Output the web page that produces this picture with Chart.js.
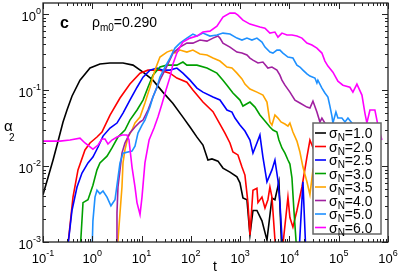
<!DOCTYPE html>
<html>
<head>
<meta charset="utf-8">
<script src="https://cdn.jsdelivr.net/npm/chart.js@4.4.0/dist/chart.umd.min.js"></script>
<style>
  html, body { margin: 0; padding: 0; background: #fff; }
  #wrap { width: 399px; height: 275px; }
</style>
</head>
<body>
<div id="wrap"><canvas id="alphaChart" width="399" height="275"></canvas></div>
<script>
// sigma_N of each curve and its colour
const sigmaLabels = ['1.0', '2.0', '2.5', '3.0', '3.5', '4.0', '5.0', '6.0'];
const lineColors = ['#000000', '#ff0000', '#0000ff', '#00a000', '#ffa500', '#a020a0', '#1e90ff', '#ff00ff'];

// tick labels (base, exponent)
const xTickValues = [0.1, 1, 10, 100, 1000, 10000, 100000, 1000000];
const xTickExp = ['-1', '0', '1', '2', '3', '4', '5', '6'];
const yTickValues = [0.001, 0.01, 0.1, 1];
const yTickExp = ['-3', '-2', '-1', '0'];

// sigma_N = 1.0
const t10 = [0.1, 0.126, 0.16, 0.2, 0.255, 0.307, 0.387, 0.563, 0.9, 1.43, 2.28, 4.2, 6.7, 10.7, 17, 27, 43, 69, 96, 133, 176, 222, 268, 355, 448, 621, 861, 991, 1140, 1374, 1581, 1820, 2190, 2770, 3500, 4420, 5080, 6120, 7050];
const a10 = [0.0042, 0.007, 0.012, 0.0207, 0.038, 0.0546, 0.083, 0.135, 0.195, 0.22, 0.227, 0.227, 0.213, 0.172, 0.135, 0.094, 0.067, 0.044, 0.0326, 0.024, 0.0189, 0.012, 0.0124, 0.0116, 0.0094, 0.0083, 0.0072, 0.006, 0.0038, 0.0036, 0.00124, 0.0026, 0.0026, 0.0019, 0.00106, 0.0038, 0.0036, 0.0062, 0.0007];
// sigma_N = 2.0
const t20 = [0.307, 0.406, 0.513, 0.711, 0.898, 1.245, 1.57, 2.29, 3.65, 5.8, 9.3, 13.5, 23.6, 37.7, 52, 83, 110, 176, 281, 389, 492, 621, 714, 902, 1089, 1251, 1439, 1581, 1820, 2190, 2300, 2770, 3190, 3660, 4020, 4420, 5320, 7050, 9330, 10230, 11770, 14190, 17950, 22650, 26060, 31400];
const a20 = [0.0007, 0.0039, 0.0089, 0.0163, 0.0201, 0.0241, 0.028, 0.0469, 0.0785, 0.12, 0.167, 0.183, 0.183, 0.167, 0.144, 0.127, 0.1, 0.0695, 0.052, 0.0357, 0.0272, 0.0201, 0.0153, 0.014, 0.0097, 0.0076, 0.0033, 0.00124, 0.0048, 0.0051, 0.0033, 0.0039, 0.0028, 0.0036, 0.0053, 0.0039, 0.0007, 0.0007, 0.0039, 0.0021, 0.00157, 0.0026, 0.0053, 0.0131, 0.022, 0.0163];
// sigma_N = 2.5
const t25 = [0.307, 0.387, 0.49, 0.618, 0.818, 1.03, 1.31, 1.65, 2.29, 3.17, 4.2, 5.8, 8.1, 10.7, 14.8, 20.5, 27, 37.7, 52, 69, 96, 133, 176, 281, 389, 540, 682, 785, 991, 1251, 1581, 1820, 2190, 2520, 2900, 3500, 4420, 5080, 5850, 6410, 7380, 15600, 18800, 21600];
const a25 = [0.0007, 0.0026, 0.0053, 0.0081, 0.011, 0.0131, 0.0178, 0.0248, 0.0316, 0.0368, 0.0498, 0.0738, 0.109, 0.148, 0.183, 0.195, 0.183, 0.183, 0.195, 0.167, 0.135, 0.106, 0.094, 0.081, 0.074, 0.0546, 0.0514, 0.0428, 0.0346, 0.0289, 0.022, 0.0148, 0.0201, 0.0256, 0.0131, 0.0062, 0.0089, 0.012, 0.0065, 0.0033, 0.0007, 0.0007, 0.0062, 0.0007];
// sigma_N = 3.0
const t30 = [0.563, 0.648, 0.818, 1.03, 1.245, 1.43, 1.99, 2.51, 3.32, 4.6, 5.8, 8.1, 10.7, 13.5, 17, 23.6, 32.7, 52, 69, 83, 133, 212, 338, 448, 540, 714, 991, 1140, 1581, 2000, 2520, 3190, 4020, 4630, 5570, 6120, 7050, 8110, 9330, 10230, 11250, 12340, 14190];
const a30 = [0.0007, 0.0033, 0.0036, 0.0056, 0.0089, 0.011, 0.0135, 0.0173, 0.0241, 0.0298, 0.0403, 0.0546, 0.0738, 0.109, 0.157, 0.201, 0.213, 0.213, 0.234, 0.213, 0.213, 0.195, 0.167, 0.135, 0.116, 0.0914, 0.0738, 0.0616, 0.0695, 0.0597, 0.0469, 0.0391, 0.0326, 0.0298, 0.028, 0.022, 0.0173, 0.0148, 0.012, 0.0106, 0.007, 0.0026, 0.0007];
// sigma_N = 3.5
const t35 = [3.17, 3.65, 4.0, 4.2, 4.6, 5.3, 6.4, 7.35, 9.3, 11.7, 14.8, 18.7, 23.6, 32.7, 41.4, 47.6, 60, 83, 110, 153, 212, 281, 389, 540, 682, 861, 1089, 1251, 1581, 2190, 2900, 3500, 4020, 4420, 5080, 5850, 6730, 8110, 9330, 10230, 11770, 14190, 16330, 18800, 22650, 26060, 30000, 34500];
const a35 = [0.0007, 0.0024, 0.0053, 0.011, 0.0163, 0.0241, 0.0298, 0.0368, 0.0441, 0.0675, 0.109, 0.183, 0.272, 0.316, 0.336, 0.307, 0.336, 0.316, 0.336, 0.298, 0.289, 0.264, 0.241, 0.201, 0.195, 0.167, 0.14, 0.12, 0.103, 0.094, 0.086, 0.0695, 0.038, 0.0346, 0.0469, 0.0428, 0.038, 0.0357, 0.0336, 0.0368, 0.028, 0.0213, 0.0153, 0.0097, 0.0062, 0.0042, 0.0089, 0.012];
// sigma_N = 4.0
const t40 = [3.03, 3.17, 3.32, 3.65, 4.0, 4.6, 5.8, 7.35, 9.3, 10.7, 13.5, 17, 23.6, 32.7, 43.4, 60, 83, 110, 153, 212, 281, 355, 389, 448, 621, 861, 1089, 1374, 1581, 1820, 2300, 2900, 3660, 4420, 5570, 6410, 7050, 8110, 10230, 12940, 16330, 22650, 26060, 30000, 36100, 41600, 45600, 52500, 66300, 83800];
const a40 = [0.0007, 0.0024, 0.0053, 0.0089, 0.0148, 0.0201, 0.0272, 0.0326, 0.038, 0.0403, 0.0546, 0.081, 0.135, 0.207, 0.307, 0.368, 0.415, 0.415, 0.455, 0.441, 0.483, 0.514, 0.483, 0.415, 0.368, 0.316, 0.307, 0.289, 0.264, 0.248, 0.227, 0.234, 0.195, 0.201, 0.183, 0.157, 0.135, 0.116, 0.094, 0.0738, 0.0675, 0.0597, 0.058, 0.0716, 0.0514, 0.038, 0.0428, 0.0368, 0.0256, 0.0163];
// sigma_N = 5.0
const t50 = [0.986, 1.03, 1.135, 1.245, 1.43, 1.65, 1.99, 2.39, 2.89, 3.32, 3.65, 4.2, 6.4, 7.35, 8.45, 10.2, 11.7, 14.8, 17, 20.5, 23.6, 29.8, 37.7, 47.6, 60, 83, 110, 133, 176, 244, 338, 448, 621, 861, 1089, 1374, 1734, 2190, 2770, 3190, 4020, 4630, 5570, 6410, 7380, 9330, 11770, 14190, 16330, 18800, 22650, 26060, 32900, 36100, 37800, 45600, 52500, 60400, 66300, 72800, 76300, 87800, 96300, 116000, 134000, 154000, 185000, 223000];
const a50 = [0.0007, 0.0019, 0.0039, 0.0048, 0.0043, 0.0047, 0.0039, 0.003, 0.0036, 0.007, 0.011, 0.0148, 0.0157, 0.0183, 0.0272, 0.0346, 0.0403, 0.0597, 0.081, 0.109, 0.148, 0.201, 0.264, 0.357, 0.415, 0.483, 0.546, 0.514, 0.562, 0.514, 0.53, 0.562, 0.546, 0.483, 0.455, 0.483, 0.455, 0.483, 0.428, 0.368, 0.316, 0.307, 0.336, 0.336, 0.307, 0.272, 0.264, 0.213, 0.201, 0.183, 0.163, 0.153, 0.144, 0.124, 0.135, 0.106, 0.0914, 0.081, 0.0616, 0.0455, 0.0368, 0.0514, 0.0428, 0.0428, 0.038, 0.0428, 0.0368, 0.0316];
// sigma_N = 6.0
const t60 = [0.1, 0.139, 0.221, 0.353, 0.563, 0.711, 1.03, 1.31, 1.57, 1.81, 2.08, 2.51, 3.17, 4.0, 5.06, 5.55, 6.4, 7.35, 8.07, 9.3, 10.2, 11.7, 14.2, 17.9, 21.5, 25.9, 31.3, 37.7, 43.4, 52, 60, 69, 96, 133, 176, 244, 338, 448, 621, 785, 902, 1140, 1581, 2520, 3190, 4020, 5080, 5850, 7050, 8900, 11250, 14190, 17950, 22650, 28600, 36100, 45600, 52500, 60400, 76300, 96300, 121600, 168600, 194000, 234000, 296000, 340000, 373000, 430000, 542000, 624000, 752000];
const a60 = [0.0213, 0.0213, 0.0213, 0.022, 0.0233, 0.0201, 0.0167, 0.0189, 0.0227, 0.0227, 0.0195, 0.022, 0.0241, 0.0256, 0.0256, 0.022, 0.0097, 0.0053, 0.0033, 0.0023, 0.0039, 0.011, 0.022, 0.0316, 0.0441, 0.0654, 0.1, 0.148, 0.22, 0.307, 0.368, 0.428, 0.483, 0.514, 0.58, 0.597, 0.695, 0.913, 1.03, 1.03, 0.97, 0.834, 0.739, 0.675, 0.654, 0.562, 0.58, 0.498, 0.562, 0.53, 0.53, 0.514, 0.483, 0.415, 0.391, 0.357, 0.307, 0.241, 0.207, 0.172, 0.131, 0.116, 0.109, 0.094, 0.12, 0.086, 0.0498, 0.0368, 0.0546, 0.0546, 0.0346, 0.022];

const seriesT = [t10, t20, t25, t30, t35, t40, t50, t60];
const seriesA = [a10, a20, a25, a30, a35, a40, a50, a60];

const FONT = '"Liberation Sans", Arial, Helvetica, sans-serif';

// draws a run of text pieces: [text, size, dy, bold]
function drawScript(ctx, parts, x, y, align) {
    let total = 0;
    parts.forEach(p => {
        ctx.font = (p[3] ? 'bold ' : '') + p[1] + 'px ' + FONT;
        p.w = ctx.measureText(p[0]).width;
        total += p.w;
    });
    let x0 = x;
    if (align === 'center') x0 = x - total / 2;
    if (align === 'right') x0 = x - total;
    ctx.textAlign = 'left';
    ctx.textBaseline = 'alphabetic';
    parts.forEach(p => {
        ctx.font = (p[3] ? 'bold ' : '') + p[1] + 'px ' + FONT;
        ctx.fillText(p[0], x0, y + p[2]);
        x0 += p.w;
    });
}

const framePlugin = {
    id: 'framePlugin',
    afterDatasetsDraw(chart) {
        const ctx = chart.ctx;
        const area = chart.chartArea;
        const xs = chart.scales.x;
        const ys = chart.scales.y;
        ctx.save();

        // legend box
        const lx = 313, ly = 123, lw = 68, lh = 111;
        ctx.fillStyle = '#fff';
        ctx.fillRect(lx, ly, lw, lh);
        ctx.lineWidth = 1.5;
        ctx.strokeStyle = '#666';
        ctx.strokeRect(lx, ly, lw, lh);
        sigmaLabels.forEach((s, i) => {
            const ry = 133 + i * 13.5;
            ctx.strokeStyle = lineColors[i];
            ctx.lineWidth = 1.6;
            ctx.beginPath();
            ctx.moveTo(315, ry);
            ctx.lineTo(326, ry);
            ctx.stroke();
            ctx.fillStyle = '#000';
            drawScript(ctx, [['σ', 14, 0], ['N', 10, 3], ['=' + s, 14, 0]], 329, ry + 5, 'left');
        });

        // frame
        ctx.strokeStyle = '#222';
        ctx.lineWidth = 1.3;
        ctx.strokeRect(area.left, area.top, area.right - area.left, area.bottom - area.top);

        // ticks on all four sides, pointing inward
        ctx.lineWidth = 1;
        ctx.beginPath();
        for (let d = -1; d <= 6; d++) {
            for (let k = 1; k <= 9; k++) {
                if (d === 6 && k > 1) break;
                const v = k * Math.pow(10, d);
                const px = Math.round(xs.getPixelForValue(v)) + 0.5;
                const len = k === 1 ? 6 : 3;
                ctx.moveTo(px, area.bottom);
                ctx.lineTo(px, area.bottom - len);
                ctx.moveTo(px, area.top);
                ctx.lineTo(px, area.top + len);
            }
        }
        for (let d = -3; d <= 0; d++) {
            for (let k = 1; k <= 9; k++) {
                const v = k * Math.pow(10, d);
                if (v > ys.max) break;
                const py = Math.round(ys.getPixelForValue(v)) + 0.5;
                const len = k === 1 ? 6 : 3;
                ctx.moveTo(area.left, py);
                ctx.lineTo(area.left + len, py);
                ctx.moveTo(area.right, py);
                ctx.lineTo(area.right - len, py);
            }
        }
        ctx.stroke();

        // tick labels
        ctx.fillStyle = '#000';
        xTickValues.forEach((v, i) => {
            const px = xs.getPixelForValue(v);
            drawScript(ctx, [['10', 13, 0], [xTickExp[i], 9, -7]], px, 263, 'center');
        });
        yTickValues.forEach((v, i) => {
            const py = ys.getPixelForValue(v);
            drawScript(ctx, [['10', 13, 0], [yTickExp[i], 9, -7]], 41, py + 6.5, 'right');
        });

        // axis titles
        drawScript(ctx, [['t', 14, 0]], 215, 271, 'center');
        ctx.font = '15px ' + FONT;
        ctx.textAlign = 'left';
        ctx.fillText('α', 4, 131);
        ctx.font = '10px ' + FONT;
        ctx.fillText('2', 9, 141);

        // panel letter and density
        drawScript(ctx, [['c', 16, 0, true]], 60, 28, 'left');
        drawScript(ctx, [['ρ', 14, 0], ['m0', 10, 4], ['=0.290', 14, 0]], 92, 27, 'left');
        ctx.restore();
    }
};

const datasets = sigmaLabels.map((s, i) => ({
    label: 'σN=' + s,
    data: seriesT[i].map((t, j) => ({ x: t, y: seriesA[i][j] })),
    showLine: true,
    borderColor: lineColors[i],
    backgroundColor: lineColors[i],
    borderWidth: 1.6,
    pointRadius: 0,
    fill: false,
    tension: 0,
    order: sigmaLabels.length - i
}));

const ctx = document.getElementById('alphaChart').getContext('2d');
new Chart(ctx, {
    type: 'scatter',
    data: { datasets: datasets },
    options: {
        responsive: false,
        animation: false,
        devicePixelRatio: 1,
        layout: { padding: { left: 43, right: 11, top: 3, bottom: 33 } },
        plugins: {
            legend: { display: false },
            tooltip: { enabled: false }
        },
        scales: {
            x: { type: 'logarithmic', min: 0.1, max: 1000000, display: false },
            y: { type: 'logarithmic', min: 0.001, max: 1.4, display: false }
        }
    },
    plugins: [framePlugin]
});
</script>
</body>
</html>
